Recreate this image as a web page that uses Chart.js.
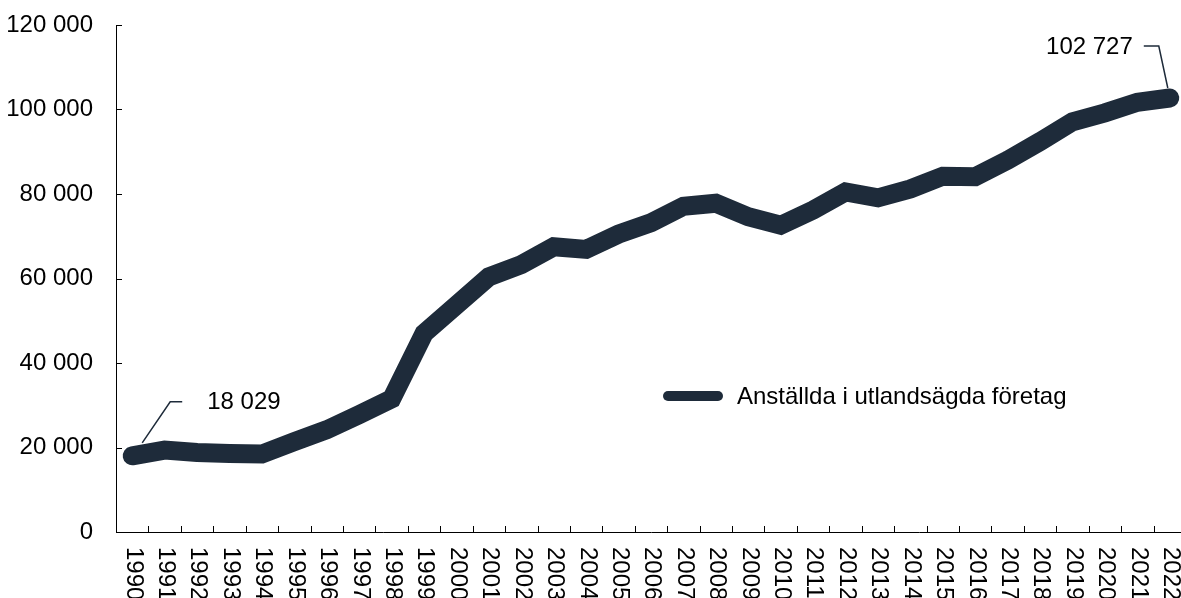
<!DOCTYPE html>
<html>
<head>
<meta charset="utf-8">
<script src="https://cdn.jsdelivr.net/npm/chart.js@4"></script>
<style>
  html, body { margin: 0; padding: 0; background: #fff; overflow: hidden; }
  #wrap { width: 1190px; height: 598px; }
</style>
</head>
<body>
<div id="wrap"><canvas id="myChart" width="1190" height="598"></canvas></div>
<script>
// Data

const years = ['1990','1991','1992','1993','1994','1995','1996','1997','1998','1999','2000',
  '2001','2002','2003','2004','2005','2006','2007','2008','2009','2010','2011','2012',
  '2013','2014','2015','2016','2017','2018','2019','2020','2021','2022'];
const anstallda = [18029, 19400, 18800, 18600, 18450, 21400, 24200, 27800, 31500, 47000, 53700,
  60400, 63300, 67500, 66900, 70500, 73200, 77100, 77800, 74600, 72600, 76200, 80500,
  79100, 81200, 84200, 84100, 88000, 92400, 97100, 99200, 101700, 102727];
const yTicks = [0, 20000, 40000, 60000, 80000, 100000, 120000];
const serieNamn = 'Anställda i utlandsägda företag';

const lineColor = '#1e2b3a';
const font = '24px "Liberation Sans", Arial, sans-serif';

// Formato con espacio de miles

let fmt = (v) => String(Math.round(v)).replace(/\B(?=(\d{3})+(?!\d))/g, ' ');

// Plugin: marcas, etiquetas del eje x, anotaciones y leyenda

const extras = {
  id: 'extras',
  afterDraw(chart) {
    const ctx = chart.ctx;
    const x = chart.scales.x;
    const y = chart.scales.y;
    const area = chart.chartArea;
    ctx.save();
    ctx.strokeStyle = '#000';
    ctx.lineWidth = 1;

    // marcas del eje y (hacia dentro)
    yTicks.forEach(v => {
      const py = Math.round(y.getPixelForValue(v)) + 0.5;
      ctx.beginPath();
      ctx.moveTo(area.left, py);
      ctx.lineTo(area.left + 6, py);
      ctx.stroke();
    });

    // marcas del eje x entre categorías
    const half = (x.getPixelForValue(1) - x.getPixelForValue(0)) / 2;
    for (let i = 1; i < years.length; i++) {
      const px = Math.round(x.getPixelForValue(i) - half) + 0.5;
      ctx.beginPath();
      ctx.moveTo(px, area.bottom);
      ctx.lineTo(px, area.bottom - 6);
      ctx.stroke();
    }

    // etiquetas del eje x giradas
    ctx.fillStyle = '#000';
    ctx.font = font;
    ctx.textAlign = 'left';
    ctx.textBaseline = 'middle';
    years.forEach((lab, i) => {
      ctx.save();
      ctx.translate(x.getPixelForValue(i) + 1, area.bottom + 15);
      ctx.rotate(Math.PI / 2);
      ctx.fillText(lab, 0, 0);
      ctx.restore();
    });

    // anotaciones primer y último punto
    const meta = chart.getDatasetMeta(0);
    const p0 = meta.data[0];
    const pN = meta.data[meta.data.length - 1];
    ctx.strokeStyle = lineColor;
    ctx.lineWidth = 1.5;

    ctx.beginPath();
    ctx.moveTo(p0.x + 10, p0.y - 13);
    ctx.lineTo(p0.x + 38, p0.y - 54);
    ctx.lineTo(p0.x + 50, p0.y - 54);
    ctx.stroke();
    ctx.textAlign = 'left';
    ctx.fillText(fmt(anstallda[0]), p0.x + 75, p0.y - 53);

    ctx.beginPath();
    ctx.moveTo(pN.x - 2, pN.y - 10);
    ctx.lineTo(pN.x - 11, pN.y - 52);
    ctx.lineTo(pN.x - 26, pN.y - 52);
    ctx.stroke();
    ctx.textAlign = 'right';
    ctx.fillText(fmt(anstallda[anstallda.length - 1]), pN.x - 37, pN.y - 51);

    // leyenda
    ctx.strokeStyle = lineColor;
    ctx.lineWidth = 10;
    ctx.lineCap = 'round';
    ctx.beginPath();
    ctx.moveTo(668, 396);
    ctx.lineTo(718, 396);
    ctx.stroke();
    ctx.textAlign = 'left';
    ctx.fillText(serieNamn, 737, 397);

    ctx.restore();
  }
};

// Crear gráfico

const myChart = new Chart(document.getElementById('myChart').getContext('2d'), {
  type: 'line',
  data: {
    labels: years,
    datasets: [{
      label: serieNamn,
      data: anstallda,
      borderColor: lineColor,
      backgroundColor: lineColor,
      borderWidth: 19,
      borderCapStyle: 'round',
      borderJoinStyle: 'miter',
      pointRadius: 0,
      tension: 0,
      fill: false
    }]
  },
  options: {
    responsive: false,
    animation: false,
    layout: { padding: { top: 25, right: 4, left: 0, bottom: 0 } },
    plugins: { legend: { display: false }, tooltip: { enabled: false } },
    scales: {
      x: {
        offset: true,
        grid: { display: false },
        border: { display: true, color: '#000', width: 1 },
        ticks: { display: false },
        afterFit: (s) => { s.height = 66; }
      },
      y: {
        min: 0,
        max: 120000,
        grid: { display: false },
        border: { display: true, color: '#000', width: 1 },
        afterBuildTicks: (s) => { s.ticks = yTicks.map(v => ({ value: v })); },
        ticks: {
          color: '#000',
          padding: 15,
          font: { family: '"Liberation Sans", Arial, sans-serif', size: 24 },
          callback: (v) => fmt(v)
        },
        afterFit: (s) => { s.width = 116; s.paddingTop = 0; s.paddingBottom = 0; }
      }
    }
  },
  plugins: [extras]
});
</script>
</body>
</html>
